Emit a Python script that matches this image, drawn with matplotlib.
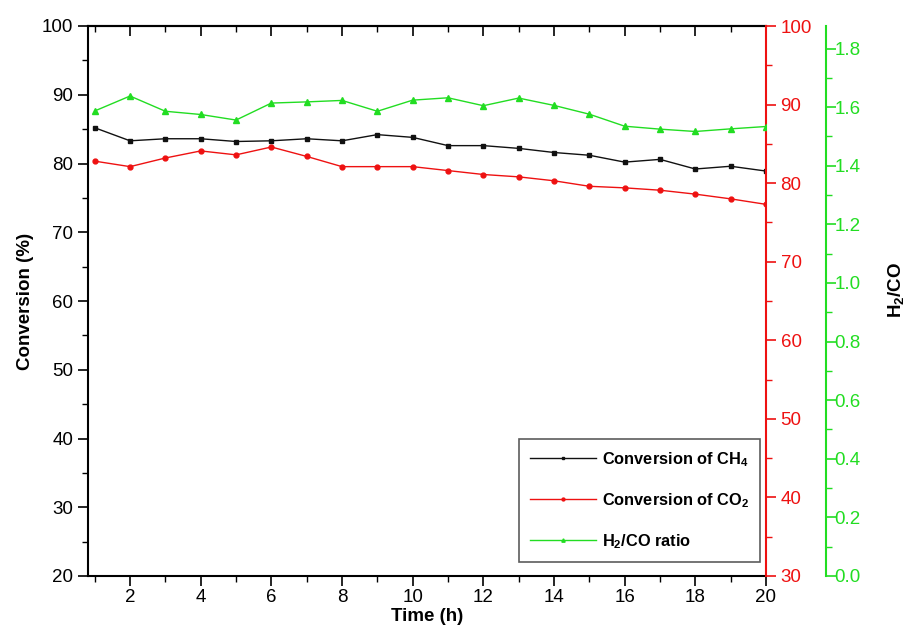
import matplotlib
matplotlib.use("Agg")
import matplotlib.pyplot as plt
from matplotlib.ticker import MultipleLocator

plt.rcParams['font.family'] = ['Liberation Sans', 'DejaVu Sans']
plt.rcParams['mathtext.fontset'] = 'custom'
plt.rcParams['mathtext.rm'] = 'Liberation Sans'
plt.rcParams['mathtext.bf'] = 'Liberation Sans:bold'

time_h = list(range(1, 21))
ch4_conv = [85.2, 83.3, 83.6, 83.6, 83.2, 83.3, 83.6, 83.3, 84.2, 83.8,
            82.6, 82.6, 82.2, 81.6, 81.2, 80.2, 80.6, 79.2, 79.6, 78.9]
co2_conv = [82.8, 82.1, 83.2, 84.1, 83.6, 84.6, 83.4, 82.1, 82.1, 82.1,
            81.6, 81.1, 80.8, 80.3, 79.6, 79.4, 79.1, 78.6, 78.0, 77.3]
h2co_ratio = [1.587, 1.638, 1.586, 1.575, 1.556, 1.614, 1.618, 1.623, 1.586, 1.624,
              1.632, 1.605, 1.631, 1.606, 1.576, 1.535, 1.525, 1.517, 1.526, 1.534]

BLACK = '#111111'
RED = '#ee1111'
GREEN = '#22dd22'

W, H = 909, 644
fig = plt.figure(figsize=(W / 100, H / 100), dpi=100)
L, R, T, B = 88, 766, 26, 576
ax1 = fig.add_axes([L / W, 1 - B / H, (R - L) / W, (B - T) / H])
ax2 = ax1.twinx()
ax3 = ax1.twinx()

l1, = ax1.plot(time_h, ch4_conv, color=BLACK, lw=1.0, marker='s', ms=3.5, label='Conversion of CH$_\\mathbf{4}$')
l2, = ax2.plot(time_h, co2_conv, color=RED, lw=1.0, marker='o', ms=3.5, label='Conversion of CO$_\\mathbf{2}$')
l3, = ax3.plot(time_h, h2co_ratio, color=GREEN, lw=1.0, marker='^', ms=4, label='H$_\\mathbf{2}$/CO ratio')

ax1.set_xlim(0.81, 20)
ax1.set_ylim(20, 100)
ax2.set_ylim(30, 100)
ax3.set_ylim(0, 1.877)

ax1.xaxis.set_major_locator(MultipleLocator(2))
ax1.xaxis.set_minor_locator(MultipleLocator(1))
ax1.yaxis.set_major_locator(MultipleLocator(10))
ax1.yaxis.set_minor_locator(MultipleLocator(5))
ax2.yaxis.set_major_locator(MultipleLocator(10))
ax2.yaxis.set_minor_locator(MultipleLocator(5))
ax3.yaxis.set_major_locator(MultipleLocator(0.2))
ax3.yaxis.set_minor_locator(MultipleLocator(0.1))
ax3.yaxis.set_major_formatter(matplotlib.ticker.FormatStrFormatter('%.1f'))

fs = 13.5
ax1.tick_params(axis='both', which='major', length=7, width=1.2, labelsize=fs, direction='out')
ax1.tick_params(axis='both', which='minor', length=4, width=1.0, direction='out')
ax1.tick_params(axis='x', pad=2, top=False, which='both')
for side in ['left', 'bottom', 'top']:
    ax1.spines[side].set_linewidth(1.5)
ax1.spines['right'].set_visible(False)

# Top ticks inward
ax_top = ax1.secondary_xaxis('top')
ax_top.xaxis.set_major_locator(MultipleLocator(2))
ax_top.xaxis.set_minor_locator(MultipleLocator(1))
ax_top.tick_params(which='major', direction='in', length=7, width=1.2, labeltop=False)
ax_top.tick_params(which='minor', direction='in', length=4, width=1.0)
ax_top.spines['top'].set_linewidth(1.5)

for s in ['left', 'top', 'bottom']:
    ax2.spines[s].set_visible(False)
ax2.spines['right'].set_color(RED)
ax2.spines['right'].set_linewidth(1.5)
ax2.tick_params(axis='y', which='major', colors=RED, length=7, width=1.2, labelsize=fs, labelcolor=RED)
ax2.tick_params(axis='y', which='minor', colors=RED, length=4, width=1.0)

ax3.spines['right'].set_position(('axes', (826 - L) / (R - L)))
for s in ['left', 'top', 'bottom']:
    ax3.spines[s].set_visible(False)
ax3.spines['right'].set_color(GREEN)
ax3.spines['right'].set_linewidth(1.5)
ax3.tick_params(axis='y', which='major', colors=GREEN, length=7, width=1.2, labelsize=fs, labelcolor=GREEN, pad=-1)
ax3.tick_params(axis='y', which='minor', colors=GREEN, length=4, width=1.0)

ax1.set_xlabel('Time (h)', fontsize=13.5, fontweight='bold', labelpad=2)
ax1.set_ylabel('Conversion (%)', fontsize=13.5, fontweight='bold', labelpad=6)
fig.text(897 / W, 1 - 290 / H, 'H$_\\mathbf{2}$/CO', rotation=90, fontsize=13.5, fontweight='bold',
         ha='center', va='center')

leg = ax1.legend(handles=[l1, l2, l3], loc='lower right', bbox_to_anchor=(1.0, 0.015),
                 prop={'weight': 'bold', 'size': 11.8}, frameon=True, fancybox=False,
                 numpoints=1, handlelength=4.0, borderpad=0.7, labelspacing=1.35,
                 handletextpad=0.35, markerscale=0.6, borderaxespad=0.35)
leg.get_frame().set_edgecolor('#333333')
leg.get_frame().set_linewidth(1.2)

fig.savefig('out.png', dpi=100)
